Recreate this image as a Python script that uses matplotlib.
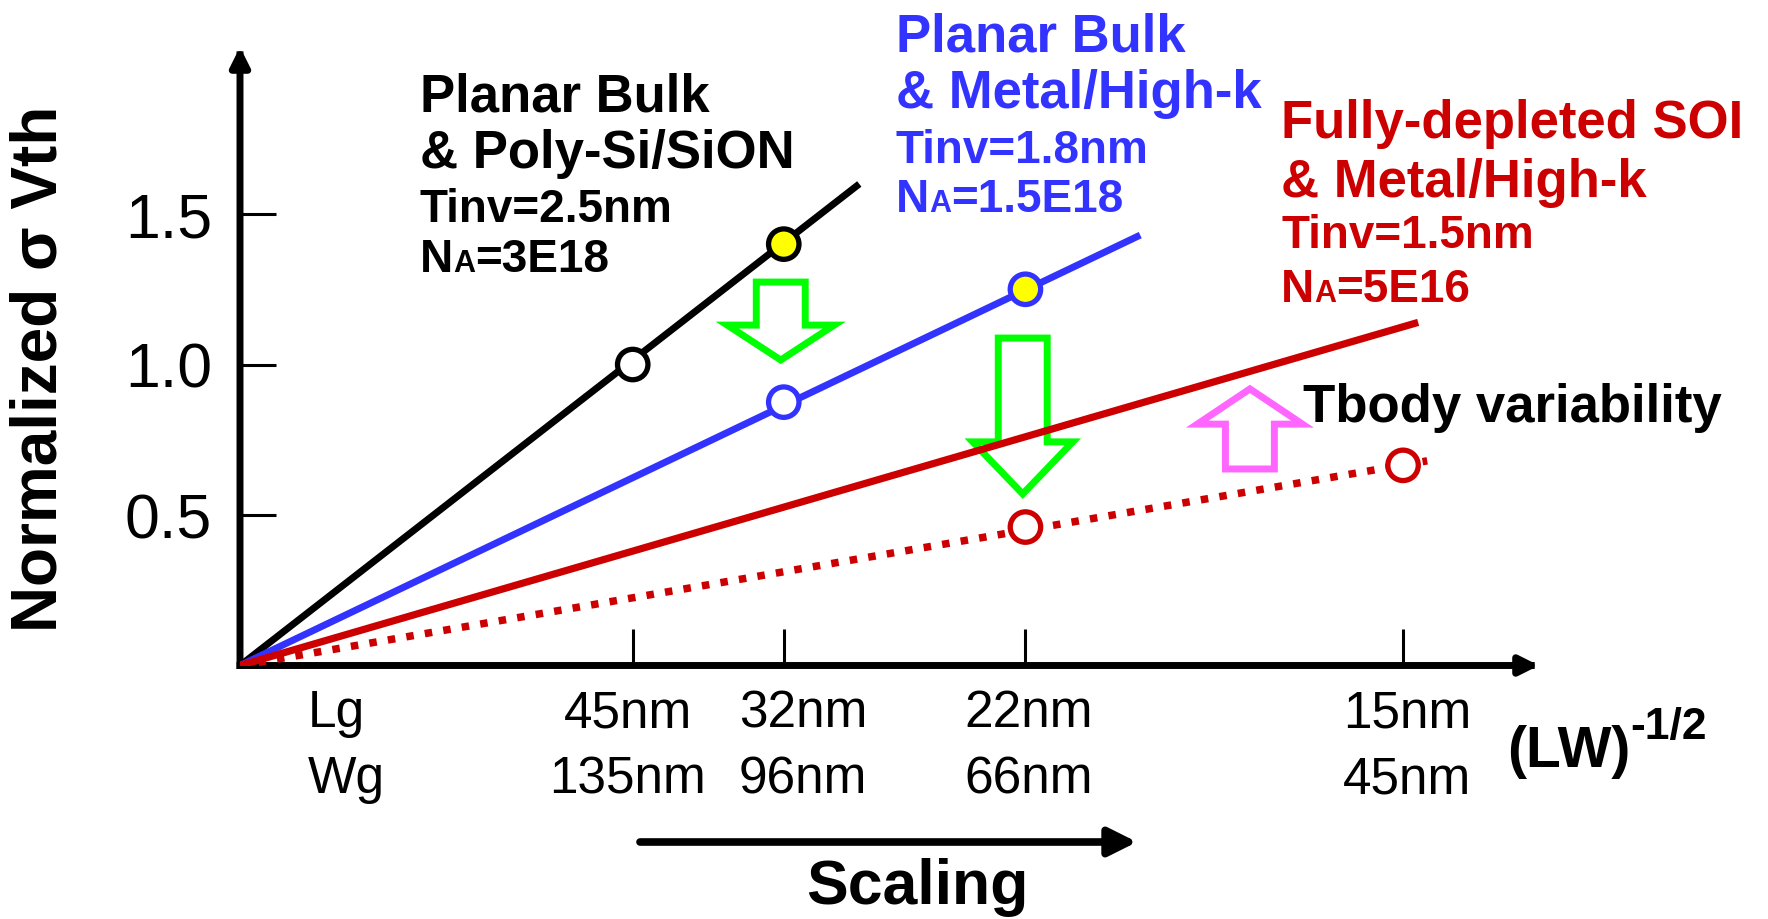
import numpy as np
import matplotlib.pyplot as plt
from matplotlib.patches import FancyArrow

plt.rcParams['font.family'] = ['Liberation Sans', 'DejaVu Sans']

# x axis is (LW)^-1/2 in 1/um, y is normalized sigma Vth
node_x = [13.0, 18.0, 26.0, 38.5]
lg_labels = ['45nm', '32nm', '22nm', '15nm']
wg_labels = ['135nm', '96nm', '66nm', '45nm']
y_ticks = [0.5, 1.0, 1.5]

# planar bulk, poly-Si/SiON
poly_x = [0.0, 20.5]
poly_y = [0.0, 1.60]
poly_pts_x = [13.0, 18.0]
poly_pts_y = [1.00, 1.40]
poly_faces = ['white', 'yellow']

# planar bulk, metal/high-k
bulk_hk_x = [0.0, 29.8]
bulk_hk_y = [0.0, 1.43]
bulk_hk_pts_x = [18.0, 26.0]
bulk_hk_pts_y = [0.875, 1.25]
bulk_hk_faces = ['white', 'yellow']

# FD-SOI, with and without Tbody variability
fdsoi_x = [0.0, 39.0]
fdsoi_y = [0.0, 1.14]
fdsoi_nt_x = [0.0, 39.3]
fdsoi_nt_y = [0.0, 0.68]
fdsoi_pts_x = [26.0, 38.5]
fdsoi_pts_y = [0.46, 0.665]
fdsoi_faces = ['white', 'white']

BLACK = '#000000'
BLUE = '#3333FF'
RED = '#CC0000'
GREEN = '#00FF00'
PINK = '#FF66FF'

fig = plt.figure(figsize=(17.68, 9.19), dpi=100)
ax = fig.add_axes([240 / 1768, 253.5 / 919, 1299 / 1768, 618.5 / 919])
ax.set_xlim(0, 43.0)
ax.set_ylim(0, 2.055)
ax.patch.set_visible(False)
for s in ax.spines.values():
    s.set_visible(False)

# axes drawn as arrows
arrow_kw = dict(arrowstyle='-|>', lw=5, color='black', mutation_scale=28,
                shrinkA=0, shrinkB=0, capstyle='projecting')
ax.annotate('', xy=(0, 1), xytext=(0, 0), xycoords='axes fraction', arrowprops=arrow_kw)
ax.annotate('', xy=(1, 0), xytext=(0, 0), xycoords='axes fraction', arrowprops=arrow_kw)

ax.set_yticks(y_ticks)
ax.set_yticklabels(['%.1f' % v for v in y_ticks])
ax.set_xticks(node_x)
ax.set_xticklabels([])
ax.tick_params(axis='y', direction='in', length=26, width=2.2, pad=20, labelsize=45)
ax.tick_params(axis='x', direction='in', length=27, width=2.2)

ax.set_ylabel('Normalized σ Vth', fontsize=46, fontweight='bold', va='center')
ax.yaxis.set_label_coords(-0.154, 0.479)

# lines
ax.plot(poly_x, poly_y, color=BLACK, lw=5, zorder=3, solid_capstyle='butt')
ax.plot(bulk_hk_x, bulk_hk_y, color=BLUE, lw=5, zorder=3, solid_capstyle='butt')
ax.plot(fdsoi_x, fdsoi_y, color=RED, lw=5.2, zorder=3, solid_capstyle='butt')
ax.plot(fdsoi_nt_x, fdsoi_nt_y, color=RED, lw=5.4, zorder=3,
        linestyle=(0, (1.0, 1.5)), dash_capstyle='butt')

ax.scatter(poly_pts_x, poly_pts_y, s=480, facecolors=poly_faces, edgecolors=BLACK,
           linewidths=3.8, zorder=4)
ax.scatter(bulk_hk_pts_x, bulk_hk_pts_y, s=480, facecolors=bulk_hk_faces, edgecolors=BLUE,
           linewidths=3.8, zorder=4)
ax.scatter(fdsoi_pts_x, fdsoi_pts_y, s=480, facecolors=fdsoi_faces, edgecolors=RED,
           linewidths=3.8, zorder=4)

# hollow block arrows
for x0, y0, dy, w, hw, hl, col in [(17.9, 1.274, -0.259, 1.62, 3.54, 0.116, GREEN),
                                    (25.91, 1.088, -0.518, 1.62, 3.31, 0.173, GREEN),
                                    (33.43, 0.653, 0.266, 1.62, 3.48, 0.117, PINK)]:
    ax.add_patch(FancyArrow(x0, y0, 0, dy, width=w, head_width=hw, head_length=hl,
                            length_includes_head=True, fill=False, edgecolor=col,
                            lw=5, joinstyle='miter', zorder=2))

# x labels (Lg / Wg)
offsets = [-3.7, 14, 2, 3]
for x, lg, wg, dx in zip(node_x, lg_labels, wg_labels, offsets):
    ax.annotate(lg, xy=(x, 0), xytext=(dx, -44.3), textcoords='offset points',
                ha='center', va='baseline', fontsize=37)
    ax.annotate(wg, xy=(x, 0), xytext=(dx, -91.8), textcoords='offset points',
                ha='center', va='baseline', fontsize=37)
ax.annotate('Lg', xy=(308, 192), xycoords='figure pixels', ha='left', va='baseline', fontsize=37)
ax.annotate('Wg', xy=(308, 126), xycoords='figure pixels', ha='left', va='baseline', fontsize=37)

lw_txt = ax.annotate('(LW)', xy=(1507, 152), xycoords='figure pixels', ha='left',
                     va='baseline', fontsize=41, fontweight='bold')
ax.annotate('-1/2', xy=(1, 180), xycoords=(lw_txt, 'figure pixels'), ha='left',
            va='baseline', fontsize=32, fontweight='bold')

ax.annotate('', xy=(1137, 77), xytext=(640, 77), xycoords='figure pixels',
            arrowprops=dict(arrowstyle='-|>', lw=5.5, color='black', mutation_scale=42,
                            shrinkA=0, shrinkB=0))
ax.annotate('Scaling', xy=(917, 15), xycoords='figure pixels', ha='center', va='baseline',
            fontsize=45, fontweight='bold')


def rich_line(x, y, pieces, color):
    prev = None
    for txt, size in pieces:
        if prev is None:
            prev = ax.annotate(txt, xy=(x, y), xycoords='figure pixels', ha='left',
                               va='baseline', fontsize=size, fontweight='bold', color=color)
        else:
            prev = ax.annotate(txt, xy=(1, y), xycoords=(prev, 'figure pixels'), ha='left',
                               va='baseline', fontsize=size, fontweight='bold', color=color)


def block(x, baselines, title1, title2, tinv, na, color):
    rich_line(x, baselines[0], [(title1, 38)], color)
    rich_line(x, baselines[1], [(title2, 38)], color)
    rich_line(x, baselines[2], [('Tinv=' + tinv, 33)], color)
    rich_line(x, baselines[3], [('N', 33), ('A', 22), ('=' + na, 33)], color)


block(420, [808, 751, 697, 647], 'Planar Bulk', '& Poly-Si/SiON', '2.5nm', '3E18', BLACK)
block(896, [867, 811, 756, 707], 'Planar Bulk', '& Metal/High-k', '1.8nm', '1.5E18', BLUE)
block(1281, [781, 722, 671, 617], 'Fully-depleted SOI', '& Metal/High-k', '1.5nm', '5E16', RED)
rich_line(1303, 497, [('Tbody variability', 38)], BLACK)

fig.savefig('out.png', dpi=100, facecolor='white')
